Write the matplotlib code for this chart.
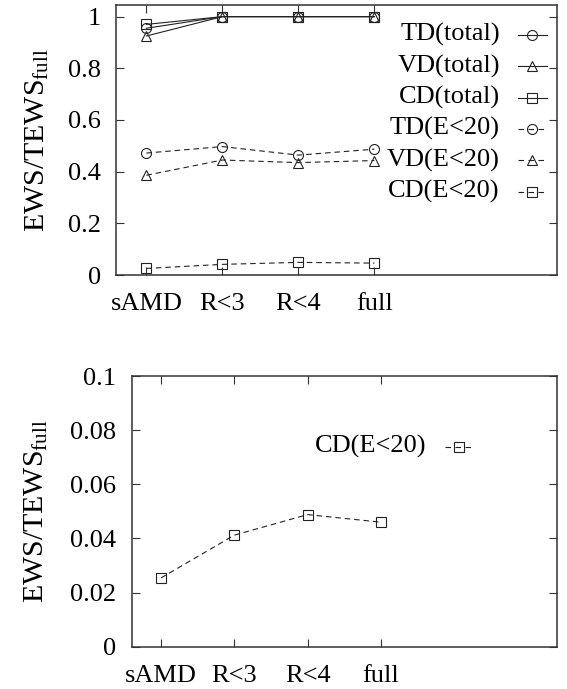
import matplotlib
matplotlib.use("Agg")
import matplotlib.pyplot as plt
import numpy as np

plt.rcParams['font.family'] = ['Liberation Serif', 'DejaVu Serif']
plt.rcParams['mathtext.fontset'] = 'custom'
plt.rcParams['mathtext.rm'] = 'Liberation Serif'
plt.rcParams['mathtext.it'] = 'Liberation Serif:italic'

# data
cases = ['sAMD', 'R<3', 'R<4', 'full']
td_total = [0.955, 1.0, 1.0, 1.0]
vd_total = [0.925, 1.0, 1.0, 1.0]
cd_total = [0.970, 1.0, 1.0, 1.0]
td_e20 = [0.472, 0.497, 0.464, 0.487]
vd_e20 = [0.386, 0.445, 0.435, 0.443]
cd_e20 = [0.0254, 0.0412, 0.0488, 0.0460]

top_series = [
    ('TD(total)', td_total, 'o', '-'),
    ('VD(total)', vd_total, '^', '-'),
    ('CD(total)', cd_total, 's', '-'),
    ('TD(E<20)', td_e20, 'o', '--'),
    ('VD(E<20)', vd_e20, '^', '--'),
    ('CD(E<20)', cd_e20, 's', '--'),
]

x = np.arange(len(cases))
ylab = r'EWS/TEWS$_{\mathrm{full}}$'
FS = 19


def style_axes(ax):
    ax.set_xlim(-0.4, 5.4)
    ax.set_xticks(x)
    ax.set_xticklabels(cases)
    ax.tick_params(direction='in', length=6, width=0.8, top=True, right=True,
                   labelsize=FS, pad=11, colors='#333333', labelcolor='black')
    ax.tick_params(axis='x', pad=13)
    for s in ax.spines.values():
        s.set_linewidth(1.1)
        s.set_color('#333333')


def draw(ax, label, y, marker, ls, lx, ly, w):
    # w = axes width in pixels, key offsets are in pixels
    kw = dict(color='#222222', lw=0.8, marker=marker, ms=7.2, mfc='none', mew=0.8)
    line, = ax.plot(x, y, ls, **kw)
    if ls == '--':
        line.set_dashes((5, 3.5))
    # gnuplot style key: right aligned text, sample on the right
    ax.text(lx, ly, label, transform=ax.transAxes, ha='right', va='center', fontsize=FS)
    x0, x1 = lx + 18 / w, lx + 47 / w
    k, = ax.plot([x0, x1], [ly, ly], ls, color='#222222', lw=0.8,
                 transform=ax.transAxes, clip_on=False)
    if ls == '--':
        k.set_dashes((5, 4))
    ax.plot([(x0 + x1) / 2], [ly], marker=marker, ms=7.2, mfc='none', mec='#222222',
            mew=0.8, transform=ax.transAxes, clip_on=False)


fig = plt.figure(figsize=(5.67, 6.89), dpi=100)

ax1 = fig.add_axes([116 / 567, 1 - 275 / 689, 440.7 / 567, 270 / 689])
for i, (lab, y, m, ls) in enumerate(top_series):
    draw(ax1, lab, y, m, ls, 0.871, 0.89 - i * 0.1163, 440.7)
ax1.set_ylim(0, 1.045)
ax1.set_yticks([0, 0.2, 0.4, 0.6, 0.8, 1.0])
ax1.set_yticklabels(['0', '0.2', '0.4', '0.6', '0.8', '1'])
style_axes(ax1)
ax1.set_ylabel(ylab, fontsize=21.5)
ax1.yaxis.set_label_coords(-0.148, 0.5)

ax2 = fig.add_axes([131.7 / 567, 1 - 646.7 / 689, 425 / 567, 270.7 / 689])
draw(ax2, 'CD(E<20)', cd_e20, 's', '--', 0.694, 0.738, 425)
ax2.set_ylim(0, 0.1)
ax2.set_yticks([0, 0.02, 0.04, 0.06, 0.08, 0.1])
ax2.set_yticklabels(['0', '0.02', '0.04', '0.06', '0.08', '0.1'])
style_axes(ax2)
ax2.set_ylabel(ylab, fontsize=21.5)
ax2.yaxis.set_label_coords(-0.192, 0.5)

fig.savefig('out.png', dpi=100)
